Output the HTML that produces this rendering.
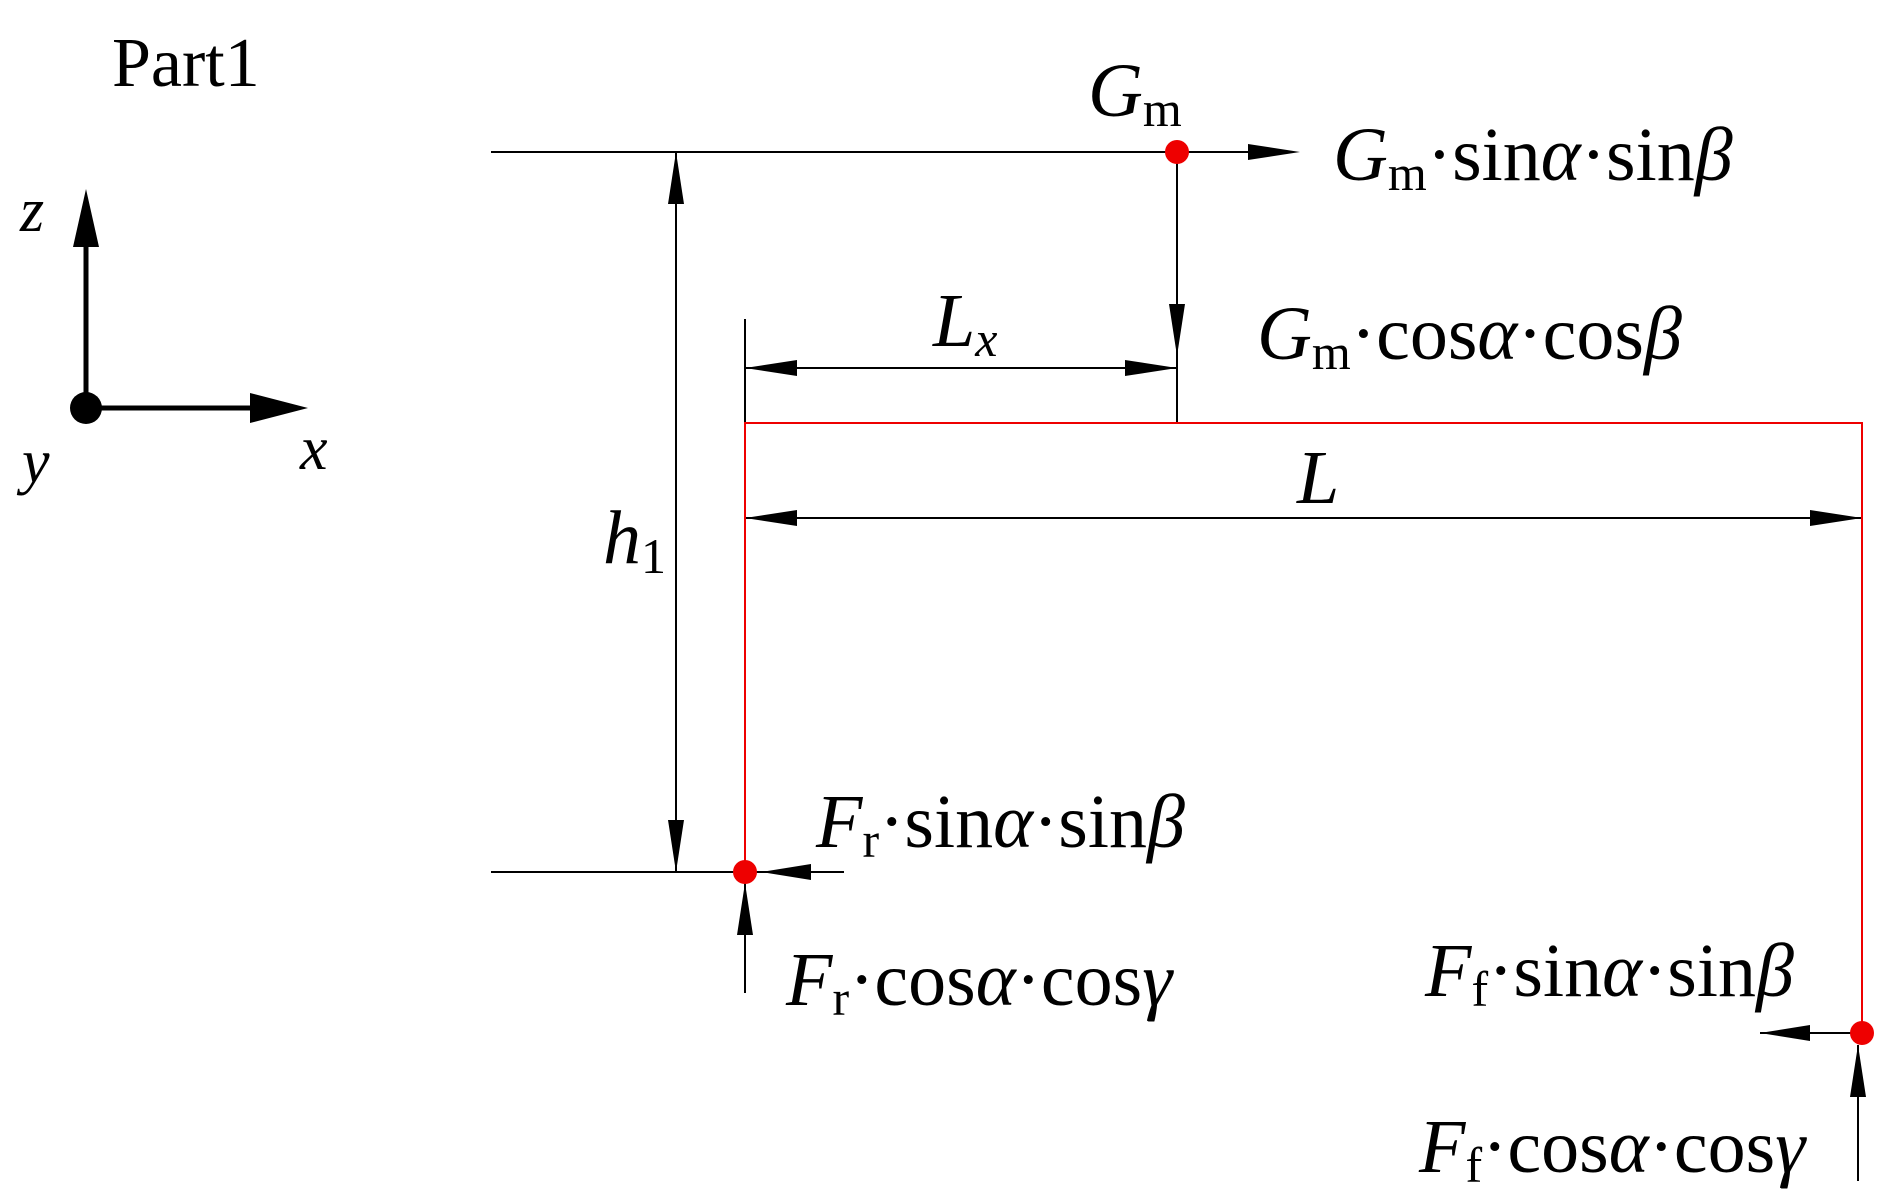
<!DOCTYPE html>
<html><head><meta charset="utf-8"><style>
html,body{margin:0;padding:0;background:#fff;}
svg{display:block;}
svg text{font-family:"Liberation Serif","Times New Roman",serif;fill:#000;}
.f{font-size:76px;}
.i{font-style:italic;}
</style></head><body>
<svg width="1901" height="1198" viewBox="0 0 1901 1198" xmlns="http://www.w3.org/2000/svg" font-family="Liberation Serif, serif">
<g stroke="#000" stroke-width="2" fill="none">
<line x1="491" y1="152" x2="1177" y2="152"/>
<line x1="491" y1="872" x2="844" y2="872"/>
<line x1="745" y1="319" x2="745" y2="423"/>
<line x1="1177" y1="152" x2="1177" y2="423"/>
<line x1="676" y1="152" x2="676" y2="872"/>
<line x1="745" y1="368" x2="1177" y2="368"/>
<line x1="745" y1="518" x2="1862" y2="518"/>
<line x1="745" y1="872" x2="745" y2="993"/>
<line x1="1760" y1="1033" x2="1862" y2="1033"/>
<line x1="1858" y1="1045" x2="1858" y2="1181"/>
<line x1="1177" y1="152" x2="1256" y2="152"/>
</g>
<g fill="#000">
<path d="M676,152 L668,204 L684,204 z"/>
<path d="M676,872 L668,820 L684,820 z"/>
<path d="M745,368 L797,360 L797,376 z"/>
<path d="M1177,368 L1125,360 L1125,376 z"/>
<path d="M745,518 L797,510 L797,526 z"/>
<path d="M1862,518 L1810,510 L1810,526 z"/>
<path d="M1177,356 L1169,304 L1185,304 z"/>
<path d="M1300,152 L1248,144 L1248,160 z"/>
<path d="M761,872 L811,864 L811,880 z"/>
<path d="M745,883 L737,935 L753,935 z"/>
<path d="M1760,1033 L1810,1025 L1810,1041 z"/>
<path d="M1858,1045 L1850,1097 L1866,1097 z"/>
</g>
<path d="M745,872 L745,423 L1862,423 L1862,1033" stroke="#e00" stroke-width="2" fill="none"/>
<g fill="#e00">
<circle cx="1177" cy="152" r="12"/>
<circle cx="745" cy="872" r="12"/>
<circle cx="1862" cy="1033" r="12"/>
</g>
<g stroke="#000" stroke-width="5">
<line x1="86" y1="408" x2="86" y2="240"/>
<line x1="86" y1="408" x2="260" y2="408"/>
</g>
<path d="M86,189 L73,247 L99,247 z" fill="#000"/>
<path d="M308,408 L250,393 L250,423 z" fill="#000"/>
<circle cx="86" cy="408" r="16" fill="#000"/>
<text class="i" x="20" y="231" style="font-size:62px">z</text>
<text class="i" x="22" y="482" style="font-size:62px">y</text>
<text class="i" x="300" y="469" style="font-size:62px">x</text>
<text x="112" y="86" style="font-size:70px">Part1</text>
<text class="f" x="1088" y="116"><tspan class="i">G</tspan><tspan font-size="50" dy="10">m</tspan></text>
<text class="f" x="1333" y="180"><tspan class="i">G</tspan><tspan font-size="50" dy="10">m</tspan><tspan dy="-10">·sin</tspan><tspan class="i">α</tspan><tspan>·sin</tspan><tspan class="i">β</tspan></text>
<text class="f" x="1257" y="359"><tspan class="i">G</tspan><tspan font-size="50" dy="10">m</tspan><tspan dy="-10">·cos</tspan><tspan class="i">α</tspan><tspan>·cos</tspan><tspan class="i">β</tspan></text>
<text class="f i" x="933" y="346"><tspan>L</tspan><tspan font-size="50" dy="10">x</tspan></text>
<text class="f i" x="1297" y="503">L</text>
<text class="f" x="603" y="563"><tspan class="i">h</tspan><tspan font-size="50" dy="10">1</tspan></text>
<text class="f" x="816" y="847"><tspan class="i">F</tspan><tspan font-size="50" dy="10">r</tspan><tspan dy="-10">·sin</tspan><tspan class="i">α</tspan><tspan>·sin</tspan><tspan class="i">β</tspan></text>
<text class="f" x="786" y="1005"><tspan class="i">F</tspan><tspan font-size="50" dy="10">r</tspan><tspan dy="-10">·cos</tspan><tspan class="i">α</tspan><tspan>·cos</tspan><tspan class="i">γ</tspan></text>
<text class="f" x="1425" y="996"><tspan class="i">F</tspan><tspan font-size="50" dy="10">f</tspan><tspan dy="-10">·sin</tspan><tspan class="i">α</tspan><tspan>·sin</tspan><tspan class="i">β</tspan></text>
<text class="f" x="1419" y="1172"><tspan class="i">F</tspan><tspan font-size="50" dy="10">f</tspan><tspan dy="-10">·cos</tspan><tspan class="i">α</tspan><tspan>·cos</tspan><tspan class="i">γ</tspan></text>
</svg>
</body></html>
